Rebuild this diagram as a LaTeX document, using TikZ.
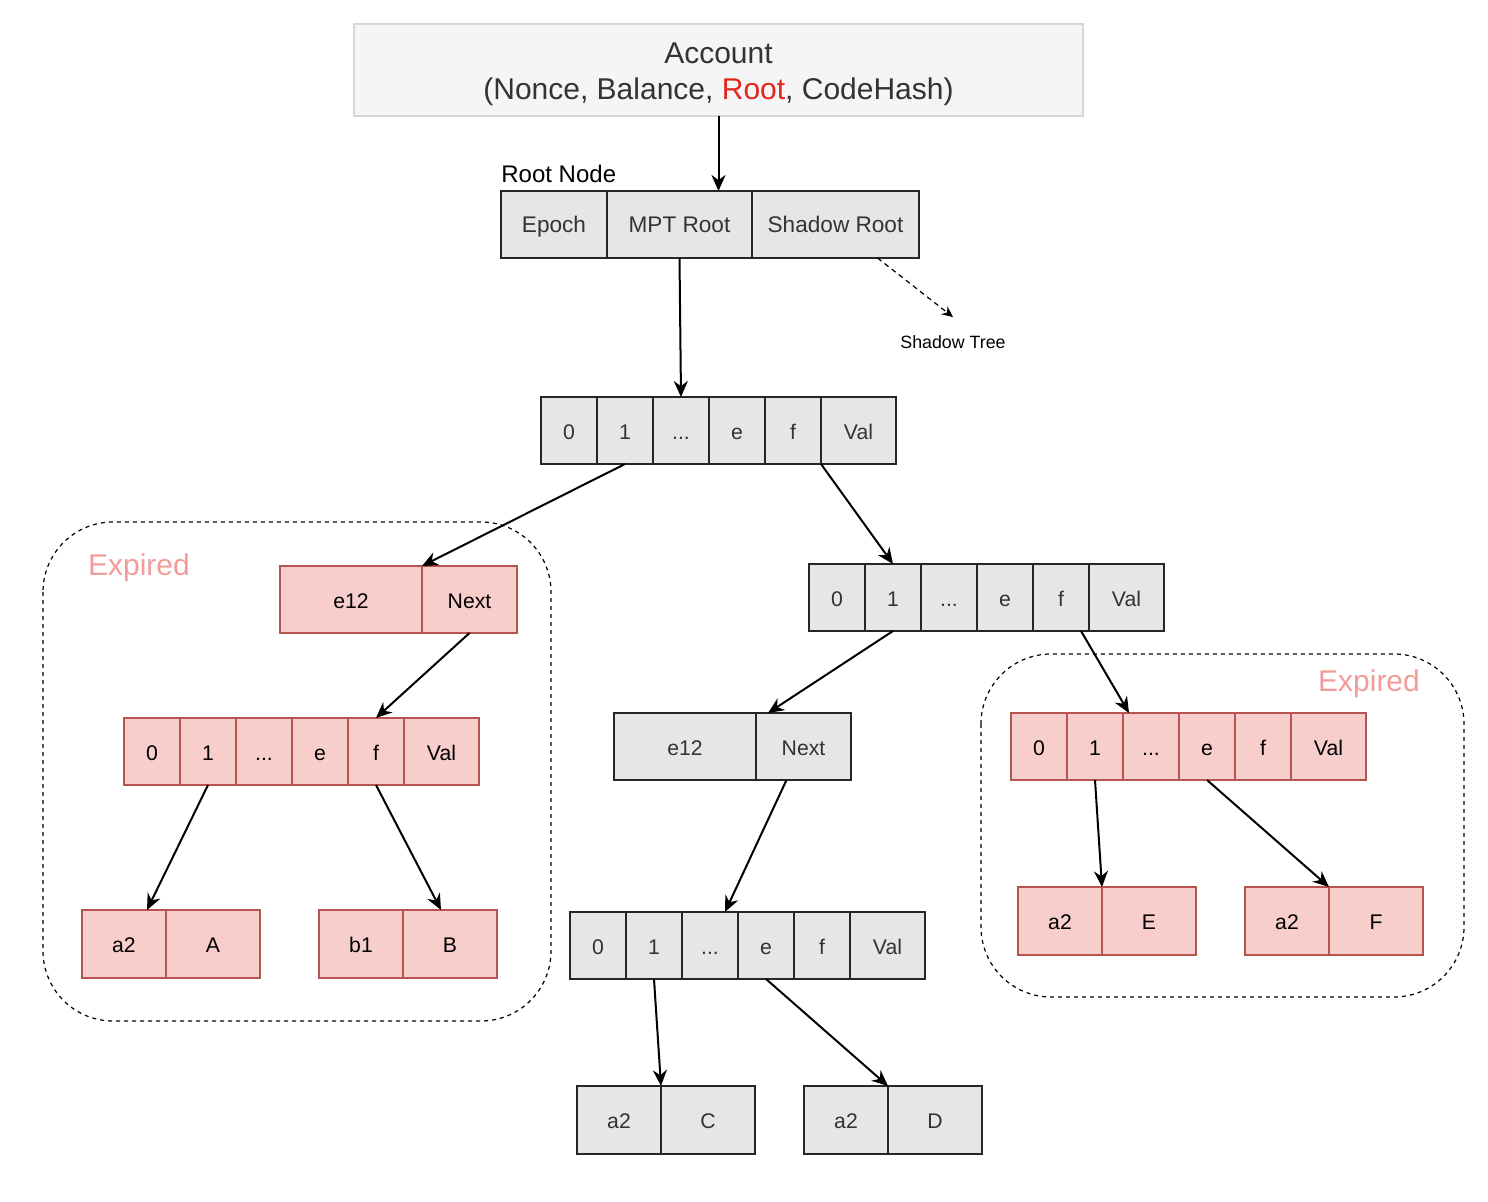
\documentclass[tikz,border=0pt]{standalone}
\usepackage{fontspec}
\setmainfont{Liberation Sans}
\usetikzlibrary{arrows.meta}
\definecolor{grayfill}{HTML}{E6E6E6}
\definecolor{pinkfill}{HTML}{F8CECC}
\definecolor{pinkline}{HTML}{B85450}
\definecolor{acctfill}{HTML}{F5F5F5}
\definecolor{acctline}{HTML}{D6D6D6}
\definecolor{expcol}{HTML}{F19C99}
\definecolor{rootred}{HTML}{E3261C}
\definecolor{txt}{HTML}{333333}
\newcommand{\cellfont}{\fontsize{10.6}{12}\selectfont}
\newcommand{\branchrow}[4]{%
  \node[#4, anchor=north west, minimum width=28pt] (#1-0) at (#2,#3) {0};
  \node[#4, anchor=north west, minimum width=28pt] (#1-1) at (#1-0.north east) {1};
  \node[#4, anchor=north west, minimum width=28pt] (#1-2) at (#1-1.north east) {...};
  \node[#4, anchor=north west, minimum width=28pt] (#1-3) at (#1-2.north east) {e};
  \node[#4, anchor=north west, minimum width=28pt] (#1-4) at (#1-3.north east) {f};
  \node[#4, anchor=north west, minimum width=37.5pt] (#1-5) at (#1-4.north east) {Val};
}
\newcommand{\leafpair}[6]{%
  \node[#4, anchor=north west, minimum width=42pt, minimum height=34pt] (#1-0) at (#2,#3) {#5};
  \node[#4, anchor=north west, minimum width=47pt, minimum height=34pt] (#1-1) at (#1-0.north east) {#6};
}
\newcommand{\extpair}[4]{%
  \node[#4, anchor=north west, minimum width=71pt] (#1-0) at (#2,#3) {e12};
  \node[#4, anchor=north west, minimum width=47.5pt] (#1-1) at (#1-0.north east) {Next};
}
\begin{document}
\begin{tikzpicture}[x=0.5pt,y=-0.5pt,
  cellbase/.style={line width=0.6pt, inner sep=0pt, outer sep=0pt,
    minimum height=33.5pt, font=\cellfont, text height=0.88em, text depth=0pt},
  cellg/.style={cellbase, draw=black!85, fill=grayfill, text=txt},
  cellp/.style={cellbase, draw=pinkline, fill=pinkfill, text=black},
  rootcell/.style={cellg, font=\fontsize{11.3}{13}\selectfont, text height=0.8em, text depth=0pt},
  arr/.style={line width=1pt, -{Stealth[length=8pt,width=7pt]}},
  darr/.style={line width=0.6pt, dash pattern=on 2.5pt off 2pt, -{Stealth[length=5.5pt,width=5pt]}},
  group/.style={draw=black, line width=0.6pt, dash pattern=on 2pt off 2pt, rounded corners=35pt},
  exptxt/.style={text=expcol, font=\fontsize{15}{17}\selectfont, inner sep=0pt}]
\useasboundingbox (0,0) rectangle (1488,1202);
% groups
\draw[group] (43,522) rectangle (551,1021);
\draw[group] (981,654) rectangle (1464,997);
\node[exptxt] (exp1) at (139,568) {Expired};
\node[exptxt] (exp2) at (1369,684) {Expired};
% account
\node[draw=acctline, fill=acctfill, line width=0.6pt, minimum width=364.5pt, minimum height=46pt,
  inner sep=0pt, outer sep=0pt] (acct) at (718.5,70) {};
\node[inner sep=0pt, align=center, text=txt, font=\fontsize{15}{18}\selectfont] (accttxt) at (718.5,74)
  {Account\\(Nonce, Balance, \textcolor{rootred}{Root}, CodeHash)};
% root node
\node[rootcell, anchor=north west, minimum width=53pt] (root-0) at (501,191) {Epoch};
\node[rootcell, anchor=north west, minimum width=72.5pt] (root-1) at (root-0.north east) {MPT Root};
\node[rootcell, anchor=north west, minimum width=83.5pt] (root-2) at (root-1.north east) {Shadow Root};
\node[anchor=south west, inner sep=0pt, font=\fontsize{12}{14}\selectfont] (rootlab) at ([yshift=4pt]root-0.north west) {Root Node};
\node[inner sep=0pt, font=\fontsize{8.9}{10}\selectfont] (st) at (953,342) {Shadow Tree};
% branch rows
\branchrow{b1}{541}{397}{cellg}
\branchrow{b2}{809}{564}{cellg}
\branchrow{b3}{570}{912}{cellg}
\branchrow{lb}{124}{718}{cellp}
\branchrow{rb}{1011}{713}{cellp}
% extension nodes
\extpair{le}{280}{566}{cellp}
\extpair{me}{614}{713}{cellg}
% leaves
\leafpair{lA}{82}{910}{cellp}{a2}{A}
\leafpair{lB}{319}{910}{cellp}{b1}{B}
\leafpair{mC}{577}{1086}{cellg}{a2}{C}
\leafpair{mD}{804}{1086}{cellg}{a2}{D}
\leafpair{rE}{1018}{887}{cellp}{a2}{E}
\leafpair{rF}{1245}{887}{cellp}{a2}{F}
% connectors
\draw[arr] (acct.south) -- (acct.south |- root-1.north);
\draw[arr] (root-1.south) -- (b1-2.north);
\draw[darr] ([xshift=21pt]root-2.south) -- ([yshift=9pt]st.north);
\draw[arr] (b1-1.south) -- (le-0.north east);
\draw[arr] (b1-4.south east) -- (b2-1.north);
\draw[arr] (le-1.south) -- (lb-4.north);
\draw[arr] (lb-1.south) -- ([xshift=-9.5pt]lA-0.north east);
\draw[arr] (lb-4.south) -- ([xshift=-4.5pt]lB-1.north);
\draw[arr] (b2-1.south) -- ([xshift=6pt]me-0.north east);
\draw[arr] ([xshift=-8.5pt]me-1.south) -- ([xshift=7.5pt]b3-2.north);
\draw[arr] (b3-1.south) -- (mC-0.north east);
\draw[arr] (b3-3.south) -- (mD-0.north east);
\draw[arr] ([xshift=-4pt]b2-4.south east) -- ([xshift=3pt]rb-2.north west);
\draw[arr] (rb-1.south) -- (rE-0.north east);
\draw[arr] (rb-3.south) -- (rF-0.north east);
\end{tikzpicture}
\end{document}
